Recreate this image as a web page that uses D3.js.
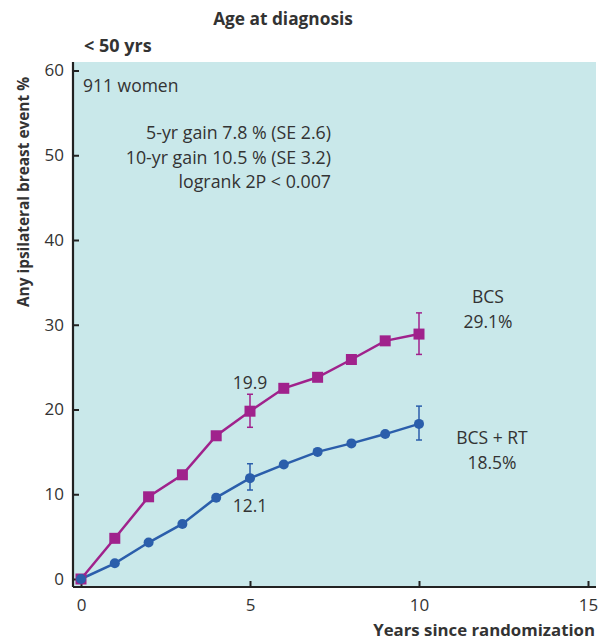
<!DOCTYPE html>
<html><head><meta charset="utf-8">
<script src="https://cdn.jsdelivr.net/npm/d3@7"></script>
<style>body{margin:0;background:#fff;} text{font-family:"Open Sans",sans-serif;}</style>
</head><body><svg id="c" width="598" height="640"></svg>
<script>
const years = [0,1,2,3,4,5,6,7,8,9,10];
const bcs   = [0,4.8,9.7,12.3,16.9,19.8,22.5,23.8,25.9,28.1,28.9];
const bcsRT = [0,1.85,4.3,6.5,9.6,11.9,13.5,15.0,16.0,17.1,18.3];
const bcsErr   = [{x:5,lo:17.9,hi:21.8},{x:10,lo:26.5,hi:31.4}];
const bcsRTErr = [{x:5,lo:10.5,hi:13.6},{x:10,lo:16.4,hi:20.4}];
const xTicks = [0,5,10,15];
const yTicks = [0,10,20,30,40,50,60];
const notes = ["5-yr gain 7.8 % (SE 2.6)","10-yr gain 10.5 % (SE 3.2)","logrank 2P < 0.007"];

const svg = d3.select("#c");
const x = d3.scaleLinear().domain([0,15]).range([81,588]);
const y = d3.scaleLinear().domain([0,60]).range([579,70.5]);
const pink="#a0228c", blue="#2b5eab", ink="#333";

svg.append("rect").attr("x",73).attr("y",62).attr("width",523).attr("height",525).attr("fill","#c9e8ea");

// axes
const xa = svg.append("g").attr("transform","translate(0,587)")
  .call(d3.axisBottom(x).tickValues(xTicks).tickSize(-6).tickPadding(12));
xa.select(".domain").attr("d","M73,0H596").attr("stroke","#222").attr("stroke-width",2.2);
xa.selectAll(".tick line").attr("stroke","#222").attr("stroke-width",2);
xa.selectAll("text").attr("font-size",17).attr("fill",ink).attr("font-family","Open Sans");
const ya = svg.append("g").attr("transform","translate(73,0)")
  .call(d3.axisLeft(y).tickValues(yTicks).tickSize(-6).tickPadding(9));
ya.select(".domain").attr("d","M0,62V587").attr("stroke","#222").attr("stroke-width",2.2);
ya.selectAll(".tick line").attr("stroke","#222").attr("stroke-width",2);
ya.selectAll("text").attr("font-size",17).attr("fill",ink).attr("font-family","Open Sans");

// error bars
function errs(data,col){
  const g=svg.append("g").attr("stroke",col).attr("stroke-width",1.5);
  data.forEach(d=>{
    g.append("line").attr("x1",x(d.x)).attr("x2",x(d.x)).attr("y1",y(d.lo)).attr("y2",y(d.hi));
    g.append("line").attr("x1",x(d.x)-3).attr("x2",x(d.x)+3).attr("y1",y(d.lo)).attr("y2",y(d.lo));
    g.append("line").attr("x1",x(d.x)-3).attr("x2",x(d.x)+3).attr("y1",y(d.hi)).attr("y2",y(d.hi));
  });
}
errs(bcsErr,pink); errs(bcsRTErr,blue);

const line = d3.line().x((d,i)=>x(years[i])).y(d=>y(d));
svg.append("path").datum(bcs).attr("d",line).attr("fill","none").attr("stroke",pink).attr("stroke-width",2.5);
svg.append("path").datum(bcsRT).attr("d",line).attr("fill","none").attr("stroke",blue).attr("stroke-width",2.5);
svg.selectAll(".sq").data(bcs).enter().append("rect")
  .attr("x",(d,i)=>x(years[i])-5.5).attr("y",d=>y(d)-5.5).attr("width",11).attr("height",11).attr("fill",pink);
svg.selectAll(".ci").data(bcsRT).enter().append("circle")
  .attr("cx",(d,i)=>x(years[i])).attr("cy",d=>y(d)).attr("r",5).attr("fill",blue);

function txt(s,xx,yy,opt={}){
  return svg.append("text").attr("x",xx).attr("y",yy).text(s)
    .attr("font-size",opt.size||17.5).attr("fill",opt.fill||ink)
    .attr("font-weight",opt.bold?"bold":"normal")
    .attr("text-anchor",opt.anchor||"start");
}
txt("Age at diagnosis",283,25,{bold:true,anchor:"middle",size:17.3});
txt("< 50 yrs",84,52,{bold:true,size:18});
txt("911 women",83,92);
notes.forEach((s,i)=>txt(s,331,139+i*24.5,{anchor:"end",size:17.8}));
txt("BCS",488,303,{anchor:"middle"});
txt("29.1%",488,328,{anchor:"middle"});
txt("BCS + RT",492,444,{anchor:"middle"});
txt("18.5%",492,469,{anchor:"middle"});
txt("19.9",x(5),389,{anchor:"middle"});
txt("12.1",x(5),512,{anchor:"middle"});
txt("Years since randomization",595,636,{bold:true,anchor:"end",size:16.8});
svg.append("text").attr("transform","translate(29,192) rotate(-90)").attr("text-anchor","middle")
  .attr("font-size",15.4).attr("font-weight","bold").attr("fill",ink).text("Any ipsilateral breast event %");
</script></body></html>
